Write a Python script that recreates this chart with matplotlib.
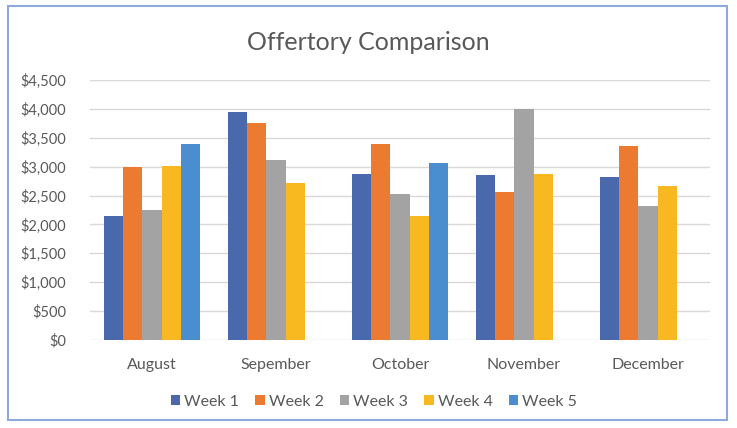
import numpy as np
import matplotlib.pyplot as plt
from matplotlib.patches import Rectangle
from matplotlib.ticker import FuncFormatter

plt.rcParams['font.family'] = ['Lato', 'DejaVu Sans']

months = ["August", "Sepember", "October", "November", "December"]
weeks = ["Week 1", "Week 2", "Week 3", "Week 4", "Week 5"]

# offering per week (nan = no fifth week that month)
week1 = [2150, 3950, 2865, 2850, 2820]
week2 = [3000, 3760, 3400, 2560, 3355]
week3 = [2255, 3110, 2530, 4000, 2325]
week4 = [3020, 2720, 2140, 2880, 2660]
week5 = [3400, np.nan, 3055, np.nan, np.nan]

colors = ["#4a69ad", "#ec7a30", "#a3a3a3", "#f8b820", "#4a8ecf"]

fig = plt.figure(figsize=(7.37, 4.28), dpi=100)
ax = fig.add_axes([90 / 737, 1 - 340 / 428, 620 / 737, 260 / 428])

x = np.arange(len(months))
w = 0.156
series = [week1, week2, week3, week4, week5]
for i, vals in enumerate(series):
    ax.bar(x + (i - 2) * w, vals, width=w, color=colors[i], label=weeks[i], zorder=3)

ax.set_xlim(-0.5, len(months) - 0.5)
ax.set_ylim(0, 4500)
ax.set_yticks(np.arange(0, 4501, 500))
ax.yaxis.set_major_formatter(FuncFormatter(lambda v, p: "${:,.0f}".format(v)))
ax.set_xticks(x)
ax.set_xticklabels(months)
ax.grid(axis="y", color="#d9d9d9", linewidth=1, zorder=0)
for s in ax.spines.values():
    s.set_visible(False)
ax.tick_params(axis="both", length=0, colors="#595959", labelsize=10.5)
ax.tick_params(axis="x", pad=13, labelsize=11.5)
ax.tick_params(axis="y", pad=17)

fig.text(0.5, 1 - 43 / 428, "Offertory Comparison", ha="center", va="center",
         fontsize=18, color="#595959")

fig.legend(loc="center", bbox_to_anchor=(374 / 737, 1 - 402 / 428), ncol=5, frameon=False,
           fontsize=11.5, handlelength=0.6, handleheight=0.6, handletextpad=0.25,
           columnspacing=1.0, labelcolor="#595959")

fig.patches.append(Rectangle((8 / 737, 1 - 420 / 428), 719 / 737, 414 / 428,
                             transform=fig.transFigure, fill=False,
                             edgecolor="#8eaadb", linewidth=1.5))

fig.savefig("out.png", dpi=100)
